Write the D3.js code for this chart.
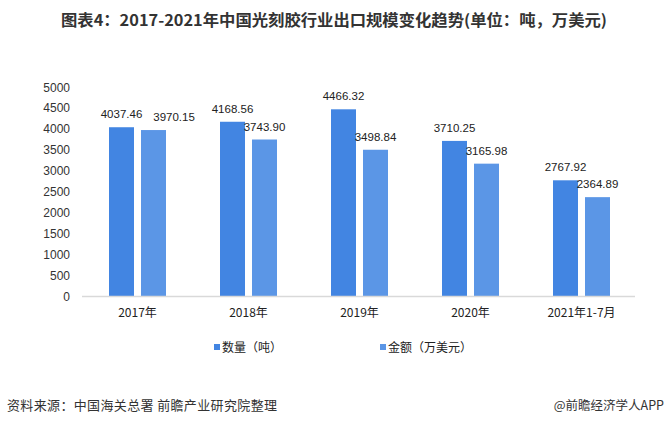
<!DOCTYPE html>
<html><head><meta charset="utf-8">
<script src="https://cdn.jsdelivr.net/npm/d3@7"></script>
<style>body{margin:0;background:#fff;}svg{display:block;}</style>
</head><body>
<svg id="c" width="666" height="425"></svg>
<script>
const categories = ["2017年","2018年","2019年","2020年","2021年1-7月"];
const seriesNames = ["数量（吨）","金额（万美元）"];
const volume = [4037.46,4168.56,4466.32,3710.25,2767.92];
const amount = [3970.15,3743.90,3498.84,3165.98,2364.89];
const yTicks = [0,500,1000,1500,2000,2500,3000,3500,4000,4500,5000];
const colors = ["#4285e2","#5b96e6"];
const font = "'Microsoft YaHei','Noto Sans CJK SC',sans-serif";
const numFont = "'Liberation Sans','Noto Sans CJK SC',sans-serif";

const svg = d3.select("#c");
const x = d3.scaleBand().domain(categories).range([82,637]);
const y = d3.scaleLinear().domain([0,5000]).range([296,87]);
const series = [volume, amount];
const barW = 25, gap = 7;

svg.append("text").attr("x",334).attr("y",26).attr("text-anchor","middle")
  .attr("font-family",font).attr("font-weight","bold").attr("font-size",15.5).attr("fill","#333")
  .attr("textLength",546).attr("lengthAdjust","spacingAndGlyphs")
  .text("图表4：2017-2021年中国光刻胶行业出口规模变化趋势(单位：吨，万美元)");

// y tick labels
svg.append("g").selectAll("text").data(yTicks).join("text")
  .attr("x",70).attr("y",d=>y(d)+4.5).attr("text-anchor","end")
  .attr("font-family",numFont).attr("font-size",12).attr("fill","#333").text(d=>d);

// bars + labels
const labelNodes = [];
series.forEach((s,i)=>{
  const off = i===0 ? -(barW+gap/2) : gap/2;
  svg.append("g").selectAll("rect").data(s).join("rect")
    .attr("x",(d,j)=>x(categories[j])+x.bandwidth()/2+off)
    .attr("y",d=>y(d)).attr("width",barW).attr("height",d=>y(0)-y(d))
    .attr("fill",colors[i]);
  const t = svg.append("g").selectAll("text").data(s).join("text")
    .attr("x",(d,j)=>x(categories[j])+x.bandwidth()/2+off+barW/2)
    .attr("y",d=>y(d)-9).attr("text-anchor","middle")
    .attr("font-family",numFont).attr("font-size",11.5).attr("fill","#222")
    .text(d=>d.toFixed(2));
  labelNodes.push(t.nodes());
});
// avoid overlap of the two labels in a group: push the second one right
labelNodes[1].forEach((n,j)=>{
  const a = labelNodes[0][j].getBBox(), b = n.getBBox();
  const vOverlap = b.y < a.y + a.height && a.y < b.y + b.height;
  if (vOverlap && b.x < a.x + a.width + 4) {
    const shift = a.x + a.width + 11 - b.x;
    n.setAttribute("x", +n.getAttribute("x") + shift);
  }
});

// x axis line
svg.append("line").attr("x1",82).attr("x2",635).attr("y1",y(0)+0.5).attr("y2",y(0)+0.5)
  .attr("stroke","#d9d9d9").attr("stroke-width",1.5);
svg.append("g").selectAll("text").data(categories).join("text")
  .attr("x",d=>x(d)+x.bandwidth()/2).attr("y",317).attr("text-anchor","middle")
  .attr("font-family",font).attr("font-size",12).attr("fill","#222").text(d=>d);

// legend
const legX = [214,380];
seriesNames.forEach((n,i)=>{
  svg.append("rect").attr("x",legX[i]).attr("y",344).attr("width",6).attr("height",6).attr("fill",colors[i]);
  svg.append("text").attr("x",legX[i]+8).attr("y",351.5)
    .attr("font-family",font).attr("font-size",12).attr("fill","#222").text(n);
});

// footer
svg.append("text").attr("x",7).attr("y",410).attr("font-family",font).attr("font-size",13).attr("fill","#333")
  .attr("textLength",270).attr("lengthAdjust","spacing")
  .text("资料来源：中国海关总署 前瞻产业研究院整理");
svg.append("text").attr("x",664).attr("y",410).attr("text-anchor","end").attr("font-family",font).attr("font-size",12.5).attr("fill","#333")
  .text("@前瞻经济学人APP");
</script>
</body></html>
